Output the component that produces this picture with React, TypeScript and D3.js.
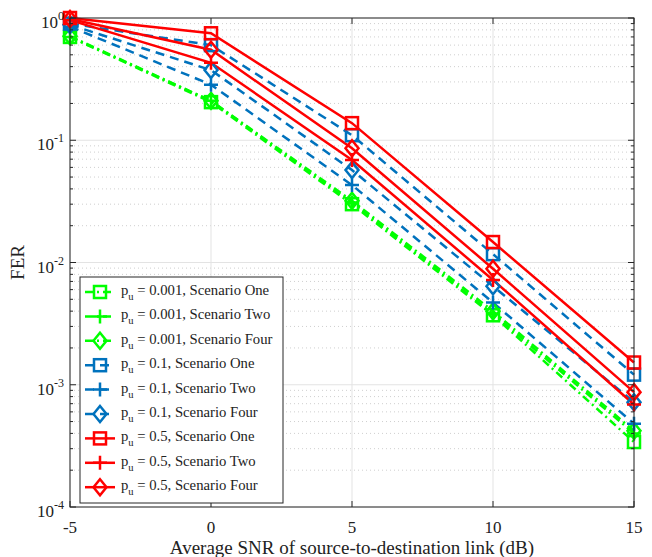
import React from 'react';
import * as d3 from 'd3';

// SNR (dB) on the x axis
const snr = [-5, 0, 5, 10, 15];

// FER values
const ferP001One = [0.70, 0.205, 0.030, 0.0037, 0.00034];
const ferP001Two = [0.70, 0.21, 0.031, 0.0038, 0.00040];
const ferP001Four = [0.71, 0.21, 0.032, 0.0040, 0.00042];
const ferP01One = [0.90, 0.60, 0.110, 0.0117, 0.00121];
const ferP01Two = [0.85, 0.285, 0.043, 0.0047, 0.00048];
const ferP01Four = [0.88, 0.375, 0.057, 0.0064, 0.00072];
const ferP05One = [1.0, 0.75, 0.138, 0.0147, 0.00152];
const ferP05Two = [0.96, 0.43, 0.069, 0.0072, 0.00069];
const ferP05Four = [0.98, 0.55, 0.086, 0.0089, 0.00087];

const puLabels = ['0.001', '0.001', '0.001', '0.1', '0.1', '0.1', '0.5', '0.5', '0.5'];
const scenarioLabels = ['One', 'Two', 'Four', 'One', 'Two', 'Four', 'One', 'Two', 'Four'];
const markers = ['square', 'plus', 'diamond', 'square', 'plus', 'diamond', 'square', 'plus', 'diamond'];
const seriesValues = [ferP001One, ferP001Two, ferP001Four, ferP01One, ferP01Two, ferP01Four, ferP05One, ferP05Two, ferP05Four];

const xTicks = [-5, 0, 5, 10, 15];
const yExponents = [0, -1, -2, -3, -4];

const GREEN = '#00ff00';
const BLUE = '#0072bd';
const RED = '#ff0000';
const colorFor = (i: number) => (i < 3 ? GREEN : i < 6 ? BLUE : RED);
const dashFor = (i: number) => (i < 3 ? '8,4,2,4' : i < 6 ? '9,6' : null);

const FONT = '"Liberation Serif", "Times New Roman", serif';

const width = 652;
const height = 557;
const margin = { top: 18, right: 18, bottom: 50, left: 70 };

const Marker = ({ type, x, y, color }: { type: string; x: number; y: number; color: string }) => {
  if (type === 'square') {
    return <rect x={x - 6} y={y - 6} width={12} height={12} fill="none" stroke={color} strokeWidth={2.5} />;
  }
  if (type === 'diamond') {
    return (
      <path
        d={`M${x},${y - 8}L${x + 6.5},${y}L${x},${y + 8}L${x - 6.5},${y}Z`}
        fill="none"
        stroke={color}
        strokeWidth={2.5}
      />
    );
  }
  return (
    <path d={`M${x - 7},${y}H${x + 7}M${x},${y - 7}V${y + 7}`} fill="none" stroke={color} strokeWidth={2.5} />
  );
};

export default function App() {
  const x = d3.scaleLinear().domain([-5, 15]).range([margin.left, width - margin.right]);
  const y = d3.scaleLog().domain([1e-4, 1]).range([height - margin.bottom, margin.top]);

  const line = d3
    .line<number>()
    .x((_, i) => x(snr[i]))
    .y((d) => y(d));

  const minorTicks: number[] = [];
  for (let e = -4; e < 0; e++) {
    for (let m = 2; m <= 9; m++) minorTicks.push(m * Math.pow(10, e));
  }

  const x0 = margin.left;
  const x1 = width - margin.right;
  const y0 = height - margin.bottom;
  const y1 = margin.top;
  const axisColor = '#262626';

  const legend = { x: 80, y: 277, w: 203, h: 226, row0: 292, step: 24.4 };

  return (
    <svg
      width={width}
      height={height}
      style={{ position: 'absolute', left: 0, top: 0, background: '#fff' }}
      fontFamily={FONT}
    >
      {/* minor grid */}
      {minorTicks.map((t) => (
        <line key={'mg' + t} x1={x0} x2={x1} y1={y(t)} y2={y(t)} stroke="#cfcfcf" strokeWidth={1} strokeDasharray="1,3" />
      ))}
      {/* major grid */}
      {yExponents.map((e) => (
        <line key={'yg' + e} x1={x0} x2={x1} y1={y(Math.pow(10, e))} y2={y(Math.pow(10, e))} stroke="#e3e3e3" strokeWidth={1} />
      ))}
      {xTicks.map((t) => (
        <line key={'xg' + t} x1={x(t)} x2={x(t)} y1={y0} y2={y1} stroke="#e3e3e3" strokeWidth={1} />
      ))}

      {/* series */}
      {seriesValues.map((vals, i) => (
        <path
          key={'s' + i}
          d={line(vals) || ''}
          fill="none"
          stroke={colorFor(i)}
          strokeWidth={2.5}
          strokeDasharray={dashFor(i) || undefined}
        />
      ))}
      {seriesValues.map((vals, i) =>
        vals.map((v, j) => <Marker key={`m${i}-${j}`} type={markers[i]} x={x(snr[j])} y={y(v)} color={colorFor(i)} />)
      )}

      {/* axes box */}
      <rect x={x0} y={y1} width={x1 - x0} height={y0 - y1} fill="none" stroke={axisColor} strokeWidth={1} />
      {xTicks.map((t) => (
        <g key={'xt' + t}>
          <line x1={x(t)} x2={x(t)} y1={y0} y2={y0 - 6} stroke={axisColor} />
          <line x1={x(t)} x2={x(t)} y1={y1} y2={y1 + 6} stroke={axisColor} />
          <text x={x(t)} y={533} textAnchor="middle" fontSize={17} fill="#222">
            {t}
          </text>
        </g>
      ))}
      {yExponents.map((e) => {
        const yy = y(Math.pow(10, e));
        return (
          <g key={'yt' + e}>
            <line x1={x0} x2={x0 + 6} y1={yy} y2={yy} stroke={axisColor} />
            <line x1={x1} x2={x1 - 6} y1={yy} y2={yy} stroke={axisColor} />
            <text x={64} y={yy + 10} textAnchor="end" fontSize={17} fill="#222">
              10
              <tspan fontSize={12} dy={-8}>
                {e}
              </tspan>
            </text>
          </g>
        );
      })}
      {minorTicks.map((t) => (
        <g key={'mt' + t}>
          <line x1={x0} x2={x0 + 3} y1={y(t)} y2={y(t)} stroke={axisColor} />
          <line x1={x1} x2={x1 - 3} y1={y(t)} y2={y(t)} stroke={axisColor} />
        </g>
      ))}

      {/* axis titles */}
      <text x={(x0 + x1) / 2} y={554} textAnchor="middle" fontSize={19} fill="#222">
        Average SNR of source-to-destination link (dB)
      </text>
      <text transform={`translate(24,${(y0 + y1) / 2}) rotate(-90)`} textAnchor="middle" fontSize={19} fill="#222">
        FER
      </text>

      {/* legend */}
      <rect x={legend.x} y={legend.y} width={legend.w} height={legend.h} fill="#fff" stroke={axisColor} strokeWidth={1} />
      {seriesValues.map((_, i) => {
        const ly = legend.row0 + i * legend.step;
        return (
          <g key={'lg' + i}>
            <line
              x1={85}
              x2={115}
              y1={ly}
              y2={ly}
              stroke={colorFor(i)}
              strokeWidth={2.5}
              strokeDasharray={dashFor(i) || undefined}
            />
            <Marker type={markers[i]} x={100} y={ly} color={colorFor(i)} />
            <text x={121} y={ly + 3} fontSize={14.7} fill="#222">
              p
              <tspan fontSize={10.5} dy={5}>
                u
              </tspan>
              <tspan dy={-5}>{` = ${puLabels[i]}, Scenario ${scenarioLabels[i]}`}</tspan>
            </text>
          </g>
        );
      })}
    </svg>
  );
}
